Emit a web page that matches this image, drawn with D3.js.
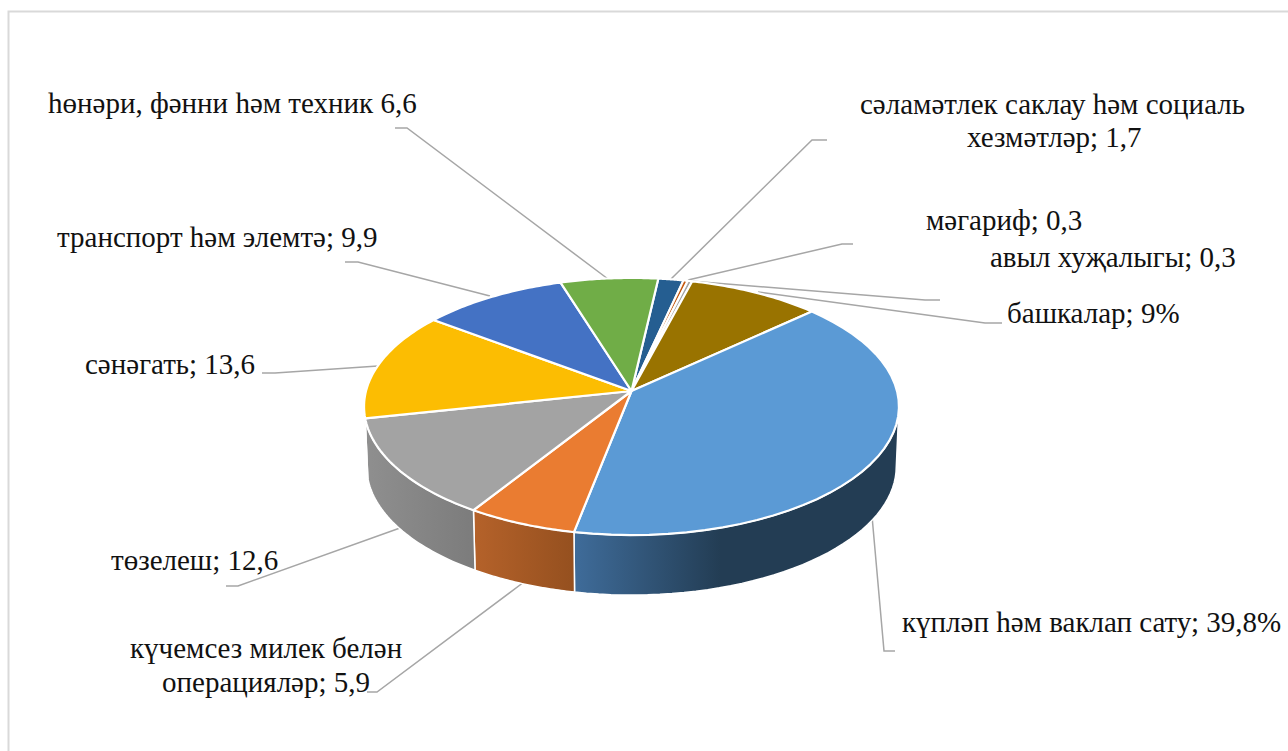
<!DOCTYPE html>
<html><head><meta charset="utf-8">
<script src="https://cdnjs.cloudflare.com/ajax/libs/d3/7.8.5/d3.min.js"></script>
<style>html,body{margin:0;padding:0;background:#fff}svg{display:block}</style></head>
<body><svg id="c" width="1288" height="751"></svg>
<script>
const categories=["сәламәтлек саклау һәм социаль хезмәтләр","мәгариф","авыл хуҗалыгы","башкалар","күпләп һәм ваклап сату","күчемсез милек белән операцияләр","төзелеш","сәнәгать","транспорт һәм элемтә","һөнәри, фәнни һәм техник"];
const values=[1.7,0.3,0.3,9,39.8,5.9,12.6,13.6,9.9,6.6];
const colors=["#255e91","#c55a11","#a5a5a5","#997300","#5b9ad5","#ea7c31","#a3a3a3","#fcbd02","#4472c4","#70ad47"];
const wallFrom=["#255e91","#9e4f1a","#8c8c8c","#7a5c00","#3f6c9a","#b5622a","#8f8f8f","#b38600","#2f5597","#4e7a32"];
const wallTo=["#16384f","#6b360f","#666","#4f3b00","#233d54","#95501f","#7c7c7c","#8f6b00","#223f70","#3a5a25"];
const labels=[
 {t:"һөнәри, фәнни һәм техник 6,6",x:48,y:113},
 {t:"сәламәтлек саклау һәм социаль",x:860,y:114},
 {t:"хезмәтләр; 1,7",x:967,y:147},
 {t:"мәгариф; 0,3",x:926,y:230},
 {t:"авыл хуҗалыгы; 0,3",x:990,y:267},
 {t:"башкалар; 9%",x:1007,y:323},
 {t:"транспорт һәм элемтә; 9,9",x:57,y:247},
 {t:"сәнәгать; 13,6",x:85,y:374},
 {t:"төзелеш; 12,6",x:111,y:570},
 {t:"күчемсез милек белән",x:130,y:658},
 {t:"операцияләр; 5,9",x:162,y:692},
 {t:"күпләп һәм ваклап сату; 39,8%",x:902,y:632}
];
const leaders=[
 [[395,128],[407,128],[608,279]],
 [[827,140],[812,140],[671,279]],
 [[853,244],[842,244],[688,280]],
 [[940,300],[925,300],[690,281]],
 [[1002,323],[985,323],[758,292]],
 [[345,262],[358,262],[490,296]],
 [[262,373],[275,373],[378,366]],
 [[226,586],[238,586],[400,528]],
 [[367,692],[377,692],[524,582]],
 [[895,651],[884,651],[872,516]]
];
const cx=631.5,cy=391,A=126.7,B=265.5,K=0.1206,DEPTH=60,SHR=0.99;
const svg=d3.select("#c");
const defs=svg.append("defs");
svg.append("path").attr("d","M1288 11.5H8.5V751").attr("fill","none").attr("stroke","#d9d9d9").attr("stroke-width",2);

const rim=(a)=>{const u=Math.sin(a),v=-Math.cos(a),s=1/(1-K*v);return [cx+B*u*s,cy+A*v*s];};
const base=(a)=>{const p=rim(a);return [cx+(p[0]-cx)*SHR,p[1]+DEPTH];};
const line=d3.line();
const pie=d3.pie().sort(null).startAngle(6.5*Math.PI/180).endAngle(366.5*Math.PI/180);
const arcs=pie(values);
const samples=(a0,a1)=>d3.range(0,41).map(i=>a0+(a1-a0)*i/40);

const lg=svg.append("g");
lg.selectAll("path").data(leaders).join("path").attr("d",d=>line(d)).attr("fill","none").attr("stroke","#a6a6a6").attr("stroke-width",1.5);

const wMin=97*Math.PI/180,wMax=263*Math.PI/180;
const wg=svg.append("g");
arcs.forEach((d,i)=>{
  const a0=Math.max(d.startAngle,wMin),a1=Math.min(d.endAngle,wMax);
  if(a1<=a0)return;
  const s=samples(a0,a1),pts=s.map(rim).concat(s.map(base).reverse());
  const xs=s.map(rim).map(p=>p[0]);
  const id="w"+i;
  const g=defs.append("linearGradient").attr("id",id).attr("gradientUnits","userSpaceOnUse")
    .attr("x1",d3.min(xs)).attr("x2",d3.max(xs)).attr("y1",0).attr("y2",0);
  if(i===4){
    g.append("stop").attr("offset",0).attr("stop-color",wallFrom[i]);
    g.append("stop").attr("offset",0.45).attr("stop-color",wallTo[i]);
    g.append("stop").attr("offset",1).attr("stop-color",wallTo[i]);
  }else{
    g.append("stop").attr("offset",0).attr("stop-color",wallFrom[i]);
    g.append("stop").attr("offset",1).attr("stop-color",wallTo[i]);
  }
  wg.append("path").attr("d",line(pts)+"Z").attr("fill","url(#"+id+")").attr("stroke","#fff").attr("stroke-width",1.5).attr("stroke-linejoin","round");
});

const tg=svg.append("g");
tg.selectAll("path").data(arcs).join("path")
 .attr("d",d=>line([[cx,cy]].concat(samples(d.startAngle,d.endAngle).map(rim)))+"Z")
 .attr("fill",(d,i)=>colors[i]).attr("stroke","#fff").attr("stroke-width",2.2).attr("stroke-linejoin","round");

svg.append("g").selectAll("text").data(labels).join("text")
 .attr("x",d=>d.x).attr("y",d=>d.y).text(d=>d.t)
 .attr("font-family","'Liberation Serif',serif").attr("font-size",29).attr("fill","#111");
</script></body></html>
